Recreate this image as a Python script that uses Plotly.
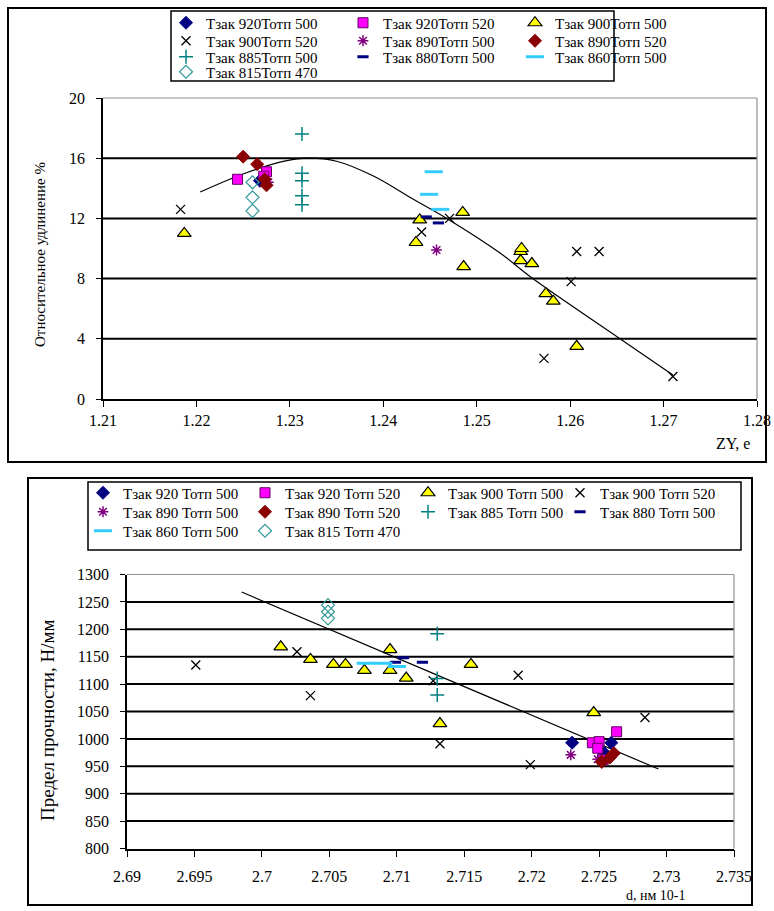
import plotly.graph_objects as go

# ---------------- data: top chart (ZY vs relative elongation %) ----------------
top_names = ["Тзак 920Тотп 500", "Тзак 920Тотп 520", "Тзак 900Тотп 500",
             "Тзак 900Тотп 520", "Тзак 890Тотп 500", "Тзак 890Тотп 520",
             "Тзак 885Тотп 500", "Тзак 880Тотп 500", "Тзак 860Тотп 500",
             "Тзак 815Тотп 470"]
bot_names = ["Тзак 920 Тотп 500", "Тзак 920 Тотп 520", "Тзак 900 Тотп 500",
             "Тзак 900 Тотп 520", "Тзак 890 Тотп 500", "Тзак 890 Тотп 520",
             "Тзак 885 Тотп 500", "Тзак 880 Тотп 500", "Тзак 860 Тотп 500",
             "Тзак 815 Тотп 470"]

t920_500_x = [1.2268]
t920_500_y = [14.5]
t920_520_x = [1.2244, 1.2275, 1.2272]
t920_520_y = [14.6, 15.1, 14.8]
t900_500_x = [1.2187, 1.2439, 1.2435, 1.2485, 1.2486, 1.2547, 1.2548, 1.2547, 1.2559, 1.2574, 1.2582, 1.2607]
t900_500_y = [11.0, 11.9, 10.4, 12.4, 8.8, 9.8, 10.0, 9.2, 9.0, 7.0, 6.5, 3.5]
t900_520_x = [1.2183, 1.2441, 1.2471, 1.2607, 1.2631, 1.2601, 1.2572, 1.2710]
t900_520_y = [12.6, 11.1, 12.0, 9.8, 9.8, 7.8, 2.7, 1.5]
t890_500_x = [1.2277, 1.2457]
t890_500_y = [14.4, 9.9]
t890_520_x = [1.2250, 1.2265, 1.2273, 1.2275]
t890_520_y = [16.1, 15.6, 14.6, 14.2]
t885_500_x = [1.2313, 1.2313, 1.2313, 1.2313, 1.2313]
t885_500_y = [17.6, 15.0, 14.5, 13.5, 12.9]
t880_500_x = [1.2459, 1.2446]
t880_500_y = [11.7, 12.1]
t860_500_x = [1.2454, 1.2449, 1.2461]
t860_500_y = [15.1, 13.6, 12.6]
t815_470_x = [1.2260, 1.2260, 1.2260]
t815_470_y = [14.4, 13.4, 12.5]

top_trend_x = [1.2204, 1.2250, 1.2294, 1.2320, 1.2350, 1.2390, 1.2430, 1.2468, 1.2525, 1.2560, 1.2651, 1.2710]
top_trend_y = [13.75, 14.95, 15.8, 16.0, 15.8, 14.8, 13.35, 12.0, 9.7, 8.0, 4.1, 1.6]

top_xticks = [1.21, 1.22, 1.23, 1.24, 1.25, 1.26, 1.27, 1.28]
top_xtick_text = ["1.21", "1.22", "1.23", "1.24", "1.25", "1.26", "1.27", "1.28"]
top_yticks = [0, 4, 8, 12, 16, 20]

# ---------------- data: bottom chart (d vs tensile strength) ----------------
b920_500_x = [2.7230, 2.7259, 2.7254]
b920_500_y = [993, 993, 974]
b920_520_x = [2.7263, 2.7245, 2.7250, 2.7249, 2.7253]
b920_520_y = [1013, 993, 995, 983, 962]
b900_500_x = [2.7014, 2.7036, 2.7053, 2.7062, 2.7076, 2.7095, 2.7095, 2.7107, 2.7132, 2.7155, 2.7246]
b900_500_y = [1168, 1145, 1136, 1136, 1125, 1163, 1125, 1111, 1028, 1136, 1048]
b900_520_x = [2.6951, 2.7026, 2.7036, 2.7127, 2.7132, 2.7190, 2.7199, 2.7284]
b900_520_y = [1135, 1159, 1079, 1106, 991, 1116, 953, 1039]
b890_500_x = [2.7229, 2.7249]
b890_500_y = [971, 963]
b890_520_x = [2.7261, 2.7258, 2.7252]
b890_520_y = [974, 966, 958]
b885_500_x = [2.7130, 2.7130, 2.7130]
b885_500_y = [1192, 1110, 1080]
b880_500_x = [2.7099, 2.7105, 2.7119]
b880_500_y = [1140, 1148, 1140]
b860_500_x = [2.7077, 2.7090, 2.7100]
b860_500_y = [1138, 1138, 1132]
b815_470_x = [2.7049, 2.7049, 2.7049]
b815_470_y = [1244, 1232, 1220]

bot_trend_x = [2.6985, 2.7294]
bot_trend_y = [1268, 945]

bot_xticks = [2.69, 2.695, 2.7, 2.705, 2.71, 2.715, 2.72, 2.725, 2.73, 2.735]
bot_xtick_text = ["2.69", "2.695", "2.7", "2.705", "2.71", "2.715", "2.72", "2.725", "2.73", "2.735"]
bot_yticks = [800, 850, 900, 950, 1000, 1050, 1100, 1150, 1200, 1250, 1300]

# ---------------- styles ----------------
styles = [
    dict(symbol="diamond", color="#000080", size=10, line=dict(color="#000080", width=1)),
    dict(symbol="square", color="#FF00FF", size=10, line=dict(color="#600060", width=1)),
    dict(symbol="triangle-up", color="#FFFF00", size=12, line=dict(color="#000000", width=1.2)),
    dict(symbol="x-thin-open", color="#000000", size=9, line=dict(color="#222222", width=1.3)),
    dict(symbol="asterisk-open", color="#800080", size=9, line=dict(color="#800080", width=1.5)),
    dict(symbol="diamond", color="#8B0000", size=10, line=dict(color="#8B0000", width=1)),
    dict(symbol="cross-thin-open", color="#008080", size=10, line=dict(color="#008080", width=1.5)),
    dict(symbol="line-ew-open", color="#000080", size=8, line=dict(color="#000080", width=3)),
    dict(symbol="line-ew-open", color="#33CCFF", size=13, line=dict(color="#33CCFF", width=3)),
    dict(symbol="diamond-open", color="#339999", size=10, line=dict(color="#339999", width=1.2)),
]

top_series = [(t920_500_x, t920_500_y), (t920_520_x, t920_520_y), (t900_500_x, t900_500_y),
              (t900_520_x, t900_520_y), (t890_500_x, t890_500_y), (t890_520_x, t890_520_y),
              (t885_500_x, t885_500_y), (t880_500_x, t880_500_y), (t860_500_x, t860_500_y),
              (t815_470_x, t815_470_y)]
bot_series = [(b920_500_x, b920_500_y), (b920_520_x, b920_520_y), (b900_500_x, b900_500_y),
              (b900_520_x, b900_520_y), (b890_500_x, b890_500_y), (b890_520_x, b890_520_y),
              (b885_500_x, b885_500_y), (b880_500_x, b880_500_y), (b860_500_x, b860_500_y),
              (b815_470_x, b815_470_y)]

W, H = 774, 911
def px(x):
    return x / W
def py(y):
    return 1 - y / H

FONT = "serif"

# legend grid positions (pixels): marker centre x per column, row centre y
top_leg_cols = [186, 363, 535]
top_leg_rows = [23, 41, 57, 72]
bot_leg_cols = [103, 265, 428, 580]
bot_leg_rows = [493, 512, 531]

fig = go.Figure()
fig.add_trace(go.Scatter(x=top_trend_x, y=top_trend_y, mode="lines", line=dict(color="black", width=1.2, shape="spline"),
                         showlegend=False, xaxis="x", yaxis="y"))
fig.add_trace(go.Scatter(x=bot_trend_x, y=bot_trend_y, mode="lines", line=dict(color="black", width=1.2),
                         showlegend=False, xaxis="x2", yaxis="y2"))

legends = {}
leg_idx = 1
def make_legend(cx, cy, size):
    return dict(x=px(cx - 20), y=py(cy), xanchor="left", yanchor="middle", orientation="v",
                itemwidth=30, borderwidth=0, bgcolor="rgba(0,0,0,0)",
                font=dict(family=FONT, size=size, color="black"))

for i, (name, (xs, ys), st) in enumerate(zip(top_names, top_series, styles)):
    lid = "legend" if leg_idx == 1 else f"legend{leg_idx}"
    col, row = i % 3, i // 3
    legends[lid] = make_legend(top_leg_cols[col], top_leg_rows[row], 15)
    fig.add_trace(go.Scatter(x=xs, y=ys, mode="markers", name=name, legend=lid,
                             marker=dict(symbol=st["symbol"], color=st["color"], size=st["size"], line=st["line"]),
                             xaxis="x", yaxis="y"))
    leg_idx += 1
for i, (name, (xs, ys), st) in enumerate(zip(bot_names, bot_series, styles)):
    lid = f"legend{leg_idx}"
    col, row = i % 4, i // 4
    legends[lid] = make_legend(bot_leg_cols[col], bot_leg_rows[row], 15)
    fig.add_trace(go.Scatter(x=xs, y=ys, mode="markers", name=name, legend=lid,
                             marker=dict(symbol=st["symbol"], color=st["color"], size=st["size"], line=st["line"]),
                             xaxis="x2", yaxis="y2"))
    leg_idx += 1

axis_common = dict(showline=True, linecolor="black", linewidth=1.5, ticks="outside",
                   tickcolor="black", showgrid=False, zeroline=False,
                   tickfont=dict(family=FONT, size=16, color="black"))

fig.update_layout(
    width=W, height=H, margin=dict(l=0, r=0, t=0, b=0, autoexpand=False),
    paper_bgcolor="white", plot_bgcolor="white",
    font=dict(family=FONT, color="black"),
    xaxis=dict(domain=[px(103), px(757)], range=[1.21, 1.28], tickvals=top_xticks, ticktext=top_xtick_text,
               anchor="y", ticklen=6, **axis_common),
    yaxis=dict(domain=[py(399), py(98)], range=[0, 20], tickvals=top_yticks, anchor="x", ticklen=5,
               ticklabelstandoff=8, **axis_common),
    xaxis2=dict(domain=[px(127), px(734)], range=[2.69, 2.735], tickvals=bot_xticks, ticktext=bot_xtick_text,
                anchor="y2", ticklen=7, ticklabelstandoff=6, **axis_common),
    yaxis2=dict(domain=[py(848.5), py(574.5)], range=[800, 1300], tickvals=bot_yticks, anchor="x2", ticklen=5,
                ticklabelstandoff=8, **axis_common),
    **legends,
)

shapes = []
for v in top_yticks[1:-1]:
    shapes.append(dict(type="line", xref="x domain", yref="y", x0=0, x1=1, y0=v, y1=v,
                       line=dict(color="black", width=2), layer="below"))
for v in bot_yticks[1:-1]:
    shapes.append(dict(type="line", xref="x2 domain", yref="y2", x0=0, x1=1, y0=v, y1=v,
                       line=dict(color="black", width=2), layer="below"))
for xr, yr in (("x domain", "y domain"), ("x2 domain", "y2 domain")):
    shapes.append(dict(type="line", xref=xr, yref=yr, x0=0, x1=1, y0=1, y1=1, line=dict(color="#909090", width=1.2)))
    shapes.append(dict(type="line", xref=xr, yref=yr, x0=1, x1=1, y0=0, y1=1, line=dict(color="#909090", width=1.2)))
shapes.append(dict(type="rect", xref="paper", yref="paper", x0=px(8), x1=px(766), y0=py(462), y1=py(8),
                   line=dict(color="black", width=2)))
shapes.append(dict(type="rect", xref="paper", yref="paper", x0=px(28), x1=px(752), y0=py(905), y1=py(478),
                   line=dict(color="black", width=2)))
shapes.append(dict(type="rect", xref="paper", yref="paper", x0=px(171), x1=px(614), y0=py(81), y1=py(11),
                   line=dict(color="black", width=1.5), fillcolor="white", layer="below"))
shapes.append(dict(type="rect", xref="paper", yref="paper", x0=px(88), x1=px(741), y0=py(550), y1=py(482),
                   line=dict(color="black", width=1.5), fillcolor="white", layer="below"))
fig.update_layout(shapes=shapes)

annotations = [
    dict(text="Относительное удлинение %", x=px(40), y=py(255), xref="paper", yref="paper",
         xanchor="center", yanchor="middle",
         textangle=-90, showarrow=False, font=dict(family=FONT, size=15, color="black")),
    dict(text="ZY, e", x=px(733), y=py(444), xref="paper", yref="paper", xanchor="center", yanchor="middle",
         showarrow=False, font=dict(family=FONT, size=16, color="black")),
    dict(text="Предел прочности, Н/мм", x=px(47), y=py(720), xref="paper", yref="paper",
         xanchor="center", yanchor="middle",
         textangle=-90, showarrow=False, font=dict(family=FONT, size=19, color="black")),
    dict(text="d, нм 10-1", x=px(656), y=py(895), xref="paper", yref="paper", xanchor="center", yanchor="middle",
         showarrow=False, font=dict(family=FONT, size=14, color="black")),
]
fig.update_layout(annotations=annotations)

# remove the default 8px page margin so the figure sits at the window's top-left corner
fig.write_html("out.html", config={"displayModeBar": False},
               post_script="document.body.style.margin='0px';")
